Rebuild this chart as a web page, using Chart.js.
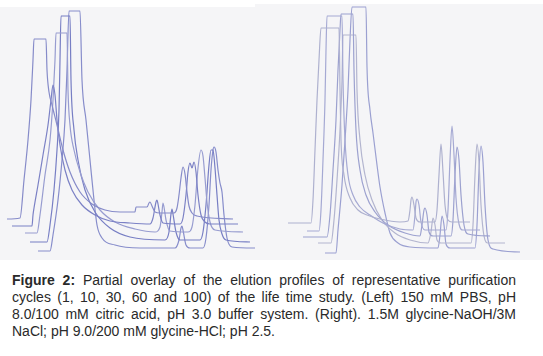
<!DOCTYPE html>
<html>
<head>
<meta charset="utf-8">
<script src="https://cdn.jsdelivr.net/npm/chart.js@4/dist/chart.umd.min.js"></script>
<style>
  html, body { margin: 0; padding: 0; background: #ffffff; }
  body { width: 543px; height: 356px; position: relative; overflow: hidden; }
  #leftPanel { position: absolute; left: 0; top: 7px; width: 255px; height: 253px; background: #f5f5f7; }
  #rightPanel { position: absolute; left: 255px; top: 4px; width: 288px; height: 256px; background: #f5f5f7; }
  #caption { position: absolute; left: 12px; top: 272px; width: 504px;
    font-family: "Liberation Sans", Arial, sans-serif; font-size: 14px; line-height: 16.9px; color: #2a2a2a; }
  #caption .ln { text-align: justify; text-align-last: justify; white-space: normal; }
  #caption .last { text-align: left; text-align-last: left; }
</style>
</head>
<body>
<div id="leftPanel"><canvas id="cLeft" width="255" height="253"></canvas></div>
<div id="rightPanel"><canvas id="cRight" width="288" height="256"></canvas></div>
<div id="caption">
  <div class="ln"><b>Figure 2:</b> Partial overlay of the elution profiles of representative purification</div>
  <div class="ln">cycles (1, 10, 30, 60 and 100) of the life time study. (Left) 150 mM PBS, pH</div>
  <div class="ln">8.0/100 mM citric acid, pH 3.0 buffer system. (Right). 1.5M glycine-NaOH/3M</div>
  <div class="ln last">NaCl; pH 9.0/200 mM glycine-HCl; pH 2.5.</div>
</div>
<script>
// Elution profiles, [elution volume (a.u.), absorbance (a.u.)]
// Left panel: 150 mM PBS pH 8.0 / 100 mM citric acid pH 3.0
const leftCycle1 = [[7,41],[20,42],[24,80],[28,120],[31,160],[33,200],[34,221],[46,221],[47,190],[49,168],[52,155],[57,135],[63,110],[70,88],[80,68],[92,56],[105,50],[120,48],[135,48],[136,53],[147,53],[149,57],[150,58],[152,54],[155,48],[160,47],[174,47],[177,52],[179,65],[181,82],[183,93],[185,86],[187,68],[189,54],[192,47],[197,44],[233,41]];
const leftCycle10 = [[12,34],[32,34],[33,45],[34,52],[38,75],[43,105],[48,135],[51,160],[53,175],[55,165],[57,140],[60,115],[65,90],[72,70],[82,55],[95,45],[110,39],[130,37],[150,36],[153,42],[156,58],[157,60],[158,56],[160,45],[163,37],[180,36],[183,42],[186,65],[188,88],[190,97],[192,92],[194,98],[196,88],[198,65],[201,45],[205,38],[210,36],[238,36]];
const leftCycle30 = [[25,27],[37,27],[40,45],[45,85],[50,120],[53,160],[55,200],[56,227],[67,227],[68,170],[70,135],[74,110],[80,88],[88,68],[100,50],[115,38],[135,31],[155,28],[160,33],[162,48],[163,57],[164,53],[166,40],[170,29],[188,28],[192,33],[195,55],[198,92],[201,110],[203,104],[205,82],[207,58],[210,38],[215,30],[243,28]];
const leftCycle60 = [[30,18],[47,18],[50,35],[54,70],[57,110],[59,150],[60,200],[61,244],[70,244],[71,180],[74,130],[78,100],[85,70],[95,48],[110,32],[130,23],[165,20],[169,28],[171,46],[172,51],[173,46],[176,28],[180,20],[200,20],[203,28],[206,55],[209,95],[211,110],[213,110],[215,92],[217,65],[219,40],[222,26],[226,20],[250,18]];
const leftCycle100 = [[38,9],[50,9],[53,25],[58,60],[62,100],[65,140],[67,190],[69,249],[80,249],[82,180],[86,140],[90,100],[94,60],[97,35],[102,22],[115,15],[140,12],[175,12],[179,20],[181,32],[182,34],[183,30],[186,15],[190,12],[203,12],[206,22],[209,55],[211,90],[213,110],[214,113],[216,108],[218,90],[220,77],[222,68],[224,45],[227,22],[232,13],[255,12]];

// Right panel: 1.5M glycine-NaOH/3M NaCl pH 9.0 / 200 mM glycine-HCl pH 2.5
const rightCycle1 = [[288,37],[311,37],[313,60],[315,110],[317,160],[319,200],[321,232],[339,232],[340,170],[341,120],[344,85],[350,62],[358,50],[367,45],[380,41],[400,38],[408,39],[410,50],[411,60],[412,63],[414,55],[416,42],[420,38],[435,38],[437,50],[439,85],[441,116],[443,88],[445,55],[448,40],[452,38],[470,38]];
const rightCycle10 = [[307,29],[319,29],[321,50],[323,100],[325,160],[326,210],[327,244],[342,244],[343,180],[345,120],[348,85],[353,65],[360,53],[370,45],[385,36],[400,31],[413,30],[415,45],[416,58],[417,61],[419,55],[421,38],[425,30],[446,30],[448,50],[450,100],[452,134],[454,105],[456,62],[459,36],[463,30],[480,30]];
const rightCycle30 = [[303,23],[327,23],[330,45],[333,90],[336,140],[338,190],[340,230],[341,246],[353,246],[354,190],[356,130],[360,90],[366,65],[375,48],[388,35],[405,27],[420,24],[422,35],[424,50],[425,52],[427,45],[429,28],[433,24],[451,24],[453,40],[455,85],[457,113],[459,100],[461,65],[464,35],[468,26],[490,24]];
const rightCycle60 = [[318,17],[331,17],[334,40],[337,80],[340,130],[342,180],[343,225],[356,225],[357,170],[360,120],[365,85],[372,60],[382,40],[395,27],[410,20],[428,17],[431,28],[433,42],[435,35],[437,20],[441,17],[471,17],[473,35],[475,85],[477,116],[479,98],[481,55],[484,24],[488,17],[505,17]];
const rightCycle100 = [[325,7],[336,7],[338,30],[342,75],[345,120],[348,170],[350,220],[352,253],[366,253],[367,193],[370,150],[373,127],[377,95],[380,73],[385,47],[390,27],[398,17],[410,13],[438,12],[440,25],[442,44],[444,35],[446,16],[450,12],[475,12],[477,35],[479,90],[481,114],[483,98],[485,55],[488,20],[493,11],[520,8]];

const cycleLabels = ['Cycle 1', 'Cycle 10', 'Cycle 30', 'Cycle 60', 'Cycle 100'];
const leftColors = ['#868bc9', '#7b81c5', '#979cd0', '#777ec4', '#878dcb'];
const rightColors = ['#aeb1cf', '#a5a9d3', '#9ca1cf', '#b3b5cf', '#9ba0d1'];

function makeChart(id, series, colors, xMin, xMax, yMax) {
  new Chart(document.getElementById(id), {
    type: 'line',
    data: {
      datasets: series.map((s, i) => ({
        label: cycleLabels[i],
        data: s,
        borderColor: colors[i],
        borderWidth: 1.2,
        pointRadius: 0,
        fill: false,
        cubicInterpolationMode: 'monotone',
        clip: false
      }))
    },
    options: {
      responsive: false,
      animation: false,
      devicePixelRatio: 1,
      layout: { padding: 0 },
      plugins: { legend: { display: false }, tooltip: { enabled: false } },
      scales: {
        x: { type: 'linear', min: xMin, max: xMax, display: false },
        y: { type: 'linear', min: 0, max: yMax, display: false }
      }
    }
  });
}

makeChart('cLeft', [leftCycle1, leftCycle10, leftCycle30, leftCycle60, leftCycle100], leftColors, 0, 255, 253);
makeChart('cRight', [rightCycle1, rightCycle10, rightCycle30, rightCycle60, rightCycle100], rightColors, 255, 543, 256);
</script>
</body>
</html>
